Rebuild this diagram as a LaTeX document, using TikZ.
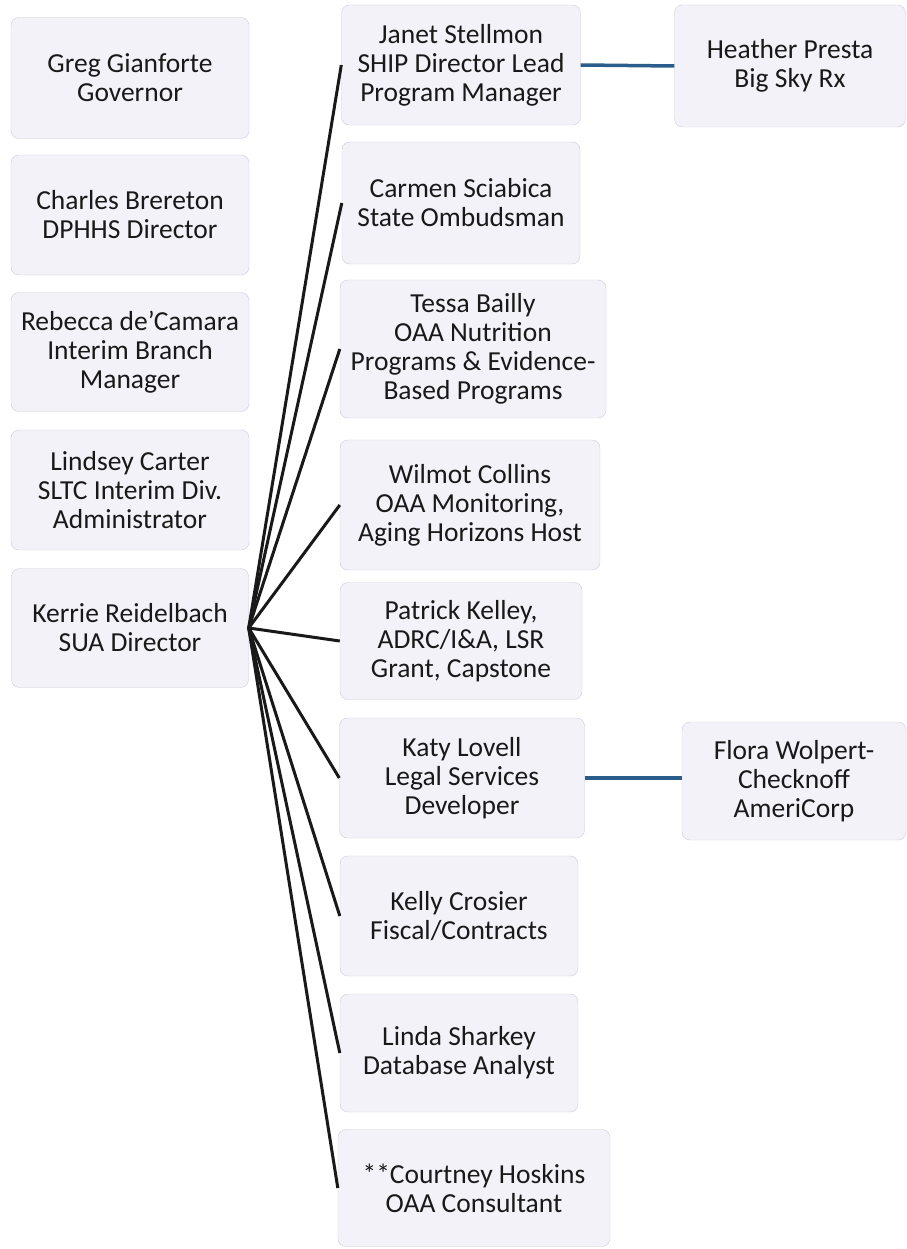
\documentclass[tikz,border=0pt]{standalone}
\usepackage{fontspec}
\setmainfont{Carlito}
\usepackage{tikz}
\usetikzlibrary{positioning,shapes}
\definecolor{cardfill}{RGB}{244,242,249}
\definecolor{cardline}{RGB}{206,202,216}
\definecolor{linkblue}{RGB}{42,92,140}

\begin{document}
\begin{tikzpicture}[x=1pt,y=-1pt,
card/.style={draw=cardline,fill=cardfill,rounded corners=8pt,align=center,inner sep=0pt,
  font=\fontsize{27.5}{29}\selectfont,text=black!90},
tie/.style={line width=3pt,black!90},
bluetie/.style={line width=3.5pt,linkblue}]
\useasboundingbox (0,0) rectangle (906,1249);
% left column
\node[card,minimum width=238pt,minimum height=121pt] (greg) at (130,78) {Greg Gianforte\\Governor};
\node[card,minimum width=238pt,minimum height=120pt] (charles) at (130,215) {Charles Brereton\\DPHHS Director};
\node[card,minimum width=238pt,minimum height=119pt] (rebecca) at (130,352) {Rebecca de'Camara\\Interim Branch\\Manager};
\node[card,minimum width=238pt,minimum height=120pt] (lindsey) at (130,490) {Lindsey Carter\\SLTC Interim Div.\\Administrator};
\node[card,minimum width=237pt,minimum height=119pt] (kerrie) at (130,628) {Kerrie Reidelbach\\SUA Director};
% middle column
\node[card,minimum width=239pt,minimum height=120pt] (janet) at (461,65) {Janet Stellmon\\SHIP Director Lead\\Program Manager};
\node[card,minimum width=238pt,minimum height=122pt] (carmen) at (461,203) {Carmen Sciabica\\State Ombudsman};
\node[card,minimum width=266pt,minimum height=138pt] (tessa) at (473,349) {Tessa Bailly\\OAA Nutrition\\Programs \& Evidence-\\Based Programs};
\node[card,minimum width=260pt,minimum height=130pt] (wilmot) at (470,505) {Wilmot Collins\\OAA Monitoring,\\Aging Horizons Host};
\node[card,minimum width=242pt,minimum height=117pt] (patrick) at (461,641) {Patrick Kelley,\\ADRC/I\&A, LSR\\Grant, Capstone};
\node[card,minimum width=245pt,minimum height=120pt] (katy) at (462,778) {Katy Lovell\\Legal Services\\Developer};
\node[card,minimum width=238pt,minimum height=120pt] (kelly) at (459,916) {Kelly Crosier\\Fiscal/Contracts};
\node[card,minimum width=238pt,minimum height=118pt] (linda) at (459,1053) {Linda Sharkey\\Database Analyst};
\node[card,minimum width=272pt,minimum height=117pt] (courtney) at (474,1188) {**Courtney Hoskins\\OAA Consultant};
% right column
\node[card,minimum width=231pt,minimum height=122pt] (heather) at (790,66) {Heather Presta\\Big Sky Rx};
\node[card,minimum width=224pt,minimum height=118pt] (flora) at (794,781) {Flora Wolpert-\\Checknoff\\AmeriCorp};
% links
\foreach \n in {janet,carmen,tessa,wilmot,patrick,katy,kelly,linda,courtney}
  \draw[tie] (kerrie.east)--(\n.west);
\draw[bluetie] (janet.east)--(heather.west);
\draw[bluetie] (katy.east)--(flora.west|-katy.east);
\end{tikzpicture}
\end{document}
